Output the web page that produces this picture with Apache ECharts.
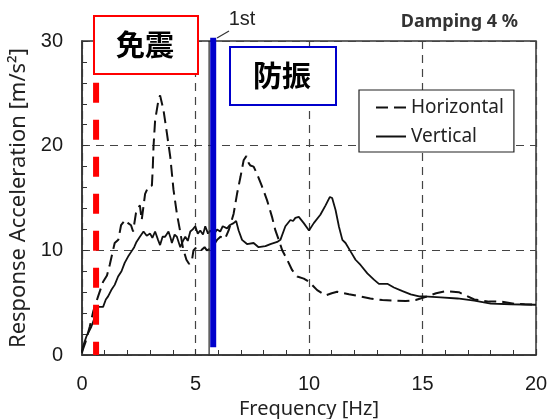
<!DOCTYPE html>
<html>
<head>
<meta charset="utf-8">
<script src="https://cdn.jsdelivr.net/npm/echarts@6/dist/echarts.min.js"></script>
<style>html,body{margin:0;padding:0;background:#fff;}#c{width:548px;height:419px;}</style>
</head>
<body>
<div id="c"></div>
<script>
// Horizontal (dashed) spectrum
const freqH = [0,0.15,0.34,0.5,0.71,0.93,1.1,1.22,1.44,1.6,1.72,1.9,2.03,2.16,2.25,2.38,2.55,2.63,2.78,2.93,3.08,3.12,3.15,3.22,3.37,3.44,3.59,3.74,3.89,4.03,4.18,4.3,4.45,4.6,4.72,4.84,4.91,5.0,5.14,5.25,5.4,5.5,5.7,5.95,6.1,6.3,6.46,6.68,6.83,6.98,7.12,7.24,7.35,7.42,7.56,7.71,7.93,8.15,8.37,8.52,8.67,8.82,9.04,9.26,9.48,9.77,10.0,10.36,10.73,11.0,11.24,11.76,12.27,12.7,13.23,13.74,14.26,14.7,15.2,15.6,16.03,16.6,17.28,17.94,18.45,19.04,19.5,20];
const accH  = [0.3,1.2,2.7,4.2,5.6,7.0,7.6,8.6,10.7,11.0,12.4,12.9,12.6,12.4,11.8,13.6,14.3,12.9,15.4,16.1,16.2,18.0,19.9,22.4,24.4,24.8,23.4,21.2,18.9,15.8,13.5,12.1,10.2,9.1,8.7,9.0,10.0,10.2,10.3,10.0,10.3,10.0,10.2,11.0,11.3,11.1,11.9,13.5,15.4,17.0,18.6,19.0,18.3,18.1,18.0,17.3,16.1,14.8,13.2,11.9,11.0,10.0,9.1,8.1,7.5,7.3,7.0,6.2,5.7,5.9,6.05,5.8,5.6,5.4,5.25,5.2,5.15,5.25,5.6,5.9,6.1,6.0,5.3,5.1,5.1,4.9,4.85,4.8];
// Vertical (solid) spectrum
const freqV = [0,0.04,0.19,0.41,0.63,0.71,0.93,1.05,1.15,1.29,1.44,1.59,1.74,1.88,2.03,2.18,2.3,2.4,2.55,2.71,2.85,3.0,3.1,3.22,3.35,3.44,3.55,3.66,3.81,3.9,3.96,4.08,4.18,4.33,4.45,4.55,4.66,4.77,4.88,4.99,5.1,5.21,5.33,5.43,5.55,5.65,5.8,5.95,6.09,6.2,6.39,6.5,6.68,6.79,6.9,7.05,7.27,7.56,7.78,8.08,8.3,8.6,8.74,8.96,9.18,9.3,9.4,9.55,9.77,10.0,10.21,10.5,10.73,10.92,11.02,11.17,11.32,11.47,11.61,11.83,12.05,12.27,12.57,12.86,13.08,13.45,13.74,14.12,14.48,14.85,15.07,15.8,16.54,17.28,18.01,18.9,19.93,20];
const accV  = [0.2,0.8,1.75,2.7,4.0,4.6,4.6,5.3,5.6,6.2,6.7,7.5,8.0,8.8,9.4,9.9,10.3,10.8,11.3,11.8,11.4,11.6,11.2,11.8,11.0,10.5,11.3,11.3,11.8,11.2,10.7,11.5,11.3,10.3,10.9,11.3,10.9,11.8,12.0,12.3,11.6,11.9,11.5,12.3,11.6,11.9,11.5,12.0,11.8,12.3,12.1,12.4,12.6,12.8,11.9,11.0,10.6,10.7,10.3,10.4,10.6,10.8,11.0,12.3,12.9,12.8,13.1,13.2,12.6,11.9,12.6,13.4,14.3,15.1,15.0,13.85,12.25,11.0,10.7,9.9,9.1,8.6,7.8,7.2,6.8,6.8,6.45,6.1,5.8,5.6,5.6,5.5,5.4,5.2,4.9,4.85,4.8,4.8];
// reference frequencies
const isoFreq = 0.62;      // 免震 (dashed red)
const firstFreq = 5.6;     // 1st (thin black)
const vibFreq = 5.78;      // 防振 (blue)
const isoRange = [26, 0];
const vibRange = [30.3, 0.75];
const firstRange = [30, 0];
const xTicks = [0,5,10,15,20];
const yTicks = [0,10,20,30];

const pairs = (xs, ys) => xs.map((x, i) => [x, ys[i]]);
const vline = (x, r) => [[x, r[0]], [x, r[1]]];

const FONT = 'Liberation Sans';
const WFONT = 'Noto Sans';
const chart = echarts.init(document.getElementById('c'), null, {renderer: 'canvas'});
chart.setOption({
  animation: false,
  backgroundColor: '#fff',
  grid: {left: 82, right: 12, top: 41, bottom: 64, outerBoundsMode: 'none', containLabel: false,
         show: true, borderColor: '#333', borderWidth: 1.5, backgroundColor: 'transparent'},
  xAxis: {
    type: 'value', min: xTicks[0], max: xTicks[xTicks.length-1], interval: 5,
    name: 'Frequency [Hz]', nameLocation: 'middle', nameGap: 40,
    nameTextStyle: {fontFamily: WFONT, fontSize: 20, color: '#222'},
    axisLine: {show: true, lineStyle: {color: '#333', width: 1.5}},
    axisTick: {show: true, inside: true, length: 6, lineStyle: {color: '#333'}},
    minorTick: {show: true, splitNumber: 5, length: 5, lineStyle: {color: '#333'}},
    axisLabel: {fontFamily: FONT, fontSize: 20, color: '#1a1a1a', margin: 19},
    splitLine: {show: true, lineStyle: {color: '#444', type: [8, 6], width: 1.2}}
  },
  yAxis: {
    type: 'value', min: yTicks[0], max: yTicks[yTicks.length-1], interval: 10,
    name: 'Response Acceleration [m/s²]', nameLocation: 'middle', nameGap: 39, nameRotate: 90,
    nameTextStyle: {fontFamily: WFONT, fontSize: 22, color: '#222'},
    axisLine: {show: true, lineStyle: {color: '#333', width: 1.5}},
    axisTick: {show: true, inside: true, length: 6, lineStyle: {color: '#333'}},
    minorTick: {show: true, splitNumber: 5, length: 5, lineStyle: {color: '#333'}},
    axisLabel: {fontFamily: FONT, fontSize: 20, color: '#1a1a1a', margin: 19},
    splitLine: {show: true, lineStyle: {color: '#444', type: [8, 6], width: 1.2}}
  },
  legend: {
    data: ['Horizontal', 'Vertical'], orient: 'vertical', left: 359, top: 90,
    padding: [7, 10, 5, 16], itemGap: 8, itemWidth: 30, itemHeight: 14,
    borderColor: '#222', borderWidth: 1.2, backgroundColor: '#fff',
    itemStyle: {opacity: 0},
    textStyle: {fontFamily: WFONT, fontSize: 19, color: '#222', lineHeight: 21},
    z: 10
  },
  series: [
    {name: 'Horizontal', type: 'line', data: pairs(freqH, accH), showSymbol: false, symbol: 'none',
     lineStyle: {color: '#111', width: 2, type: [12, 6]}, itemStyle: {color: '#111'}, z: 3},
    {name: 'Vertical', type: 'line', data: pairs(freqV, accV), showSymbol: false, symbol: 'none',
     lineStyle: {color: '#111', width: 1.8}, itemStyle: {color: '#111'}, z: 3},
    {name: 'first', type: 'line', data: vline(firstFreq, firstRange), symbol: 'none', silent: true, clip: false,
     lineStyle: {color: '#333', width: 1.3}, z: 4},
    {name: 'iso', type: 'line', data: vline(isoFreq, isoRange), symbol: 'none', silent: true, clip: false,
     lineStyle: {color: '#ff0000', width: 6, type: [20, 17], cap: 'butt'}, z: 5},
    {name: 'vib', type: 'line', data: vline(vibFreq, vibRange), symbol: 'none', silent: true, clip: false,
     lineStyle: {color: '#0000cc', width: 6, cap: 'butt'}, z: 5}
  ],
  graphic: [
    {type: 'rect', left: 93, top: 15, shape: {width: 104, height: 58}, style: {fill: '#fff', stroke: '#ff0000', lineWidth: 2}, z: 20},
    {type: 'text', x: 145, y: 45, style: {text: '免震', font: 'bold 29px "Noto Sans CJK JP"', fill: '#000', align: 'center', verticalAlign: 'middle'}, z: 21},
    {type: 'rect', left: 229, top: 46, shape: {width: 106, height: 58}, style: {fill: '#fff', stroke: '#0000cc', lineWidth: 2}, z: 20},
    {type: 'text', x: 282, y: 76, style: {text: '防振', font: 'bold 29px "Noto Sans CJK JP"', fill: '#000', align: 'center', verticalAlign: 'middle'}, z: 21},
    {type: 'text', x: 242, y: 19, style: {text: '1st', font: '20px "Liberation Sans"', fill: '#222', align: 'center', verticalAlign: 'middle'}, z: 21},
    {type: 'line', shape: {x1: 217, y1: 38, x2: 229, y2: 31}, style: {stroke: '#333', lineWidth: 1.2}, z: 21},
    {type: 'text', x: 518, y: 22, style: {text: 'Damping 4 %', font: 'bold 18px "Noto Sans"', fill: '#333', align: 'right', verticalAlign: 'middle'}, z: 21}
  ]
});
</script>
</body>
</html>
